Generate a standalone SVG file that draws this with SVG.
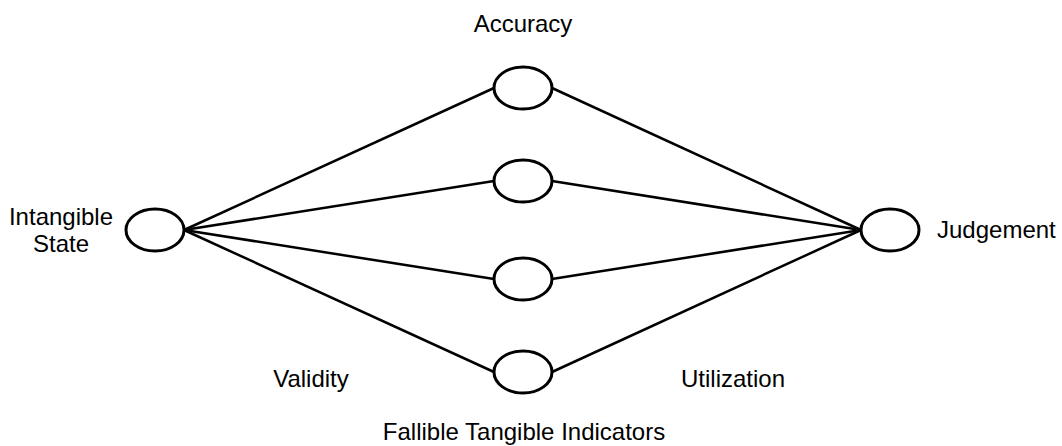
<svg xmlns="http://www.w3.org/2000/svg" width="1062" height="446" viewBox="0 0 1062 446">
  <style>
    .node { fill: #ffffff; stroke: #000000; stroke-width: 3; }
    .edge { stroke: #000000; stroke-width: 2.5; fill: none; }
    .lbl { font-family: "Liberation Sans", Arial, sans-serif; font-size: 24px; fill: #000000; }
  </style>
  <rect width="1062" height="446" fill="#ffffff"/>

  <g id="connectors">
    <line class="edge" x1="184" y1="230" x2="494" y2="88"/>
    <line class="edge" x1="184" y1="230" x2="494" y2="181"/>
    <line class="edge" x1="184" y1="230" x2="494" y2="279"/>
    <line class="edge" x1="184" y1="230" x2="494" y2="372"/>
    <line class="edge" x1="552" y1="88" x2="861" y2="230"/>
    <line class="edge" x1="552" y1="181" x2="861" y2="230"/>
    <line class="edge" x1="552" y1="279" x2="861" y2="230"/>
    <line class="edge" x1="552" y1="372" x2="861" y2="230"/>
  </g>

  <g id="intangible-state">
    <ellipse class="node" cx="155" cy="230" rx="29" ry="21"/>
    <text class="lbl" x="61" y="225" text-anchor="middle">Intangible</text>
    <text class="lbl" x="61" y="252" text-anchor="middle">State</text>
  </g>

  <g id="indicator-1">
    <ellipse class="node" cx="523" cy="88" rx="29" ry="21"/>
  </g>
  <g id="indicator-2">
    <ellipse class="node" cx="523" cy="181" rx="29" ry="21"/>
  </g>
  <g id="indicator-3">
    <ellipse class="node" cx="523" cy="279" rx="29" ry="21"/>
  </g>
  <g id="indicator-4">
    <ellipse class="node" cx="523" cy="372" rx="29" ry="21"/>
  </g>

  <g id="judgement">
    <ellipse class="node" cx="890" cy="230" rx="29" ry="21"/>
    <text class="lbl" x="937" y="238">Judgement</text>
  </g>

  <g id="labels">
    <text class="lbl" x="523" y="32" text-anchor="middle">Accuracy</text>
    <text class="lbl" x="311" y="387" text-anchor="middle">Validity</text>
    <text class="lbl" x="733" y="387" text-anchor="middle">Utilization</text>
    <text class="lbl" x="524" y="440" text-anchor="middle">Fallible Tangible Indicators</text>
  </g>
</svg>
